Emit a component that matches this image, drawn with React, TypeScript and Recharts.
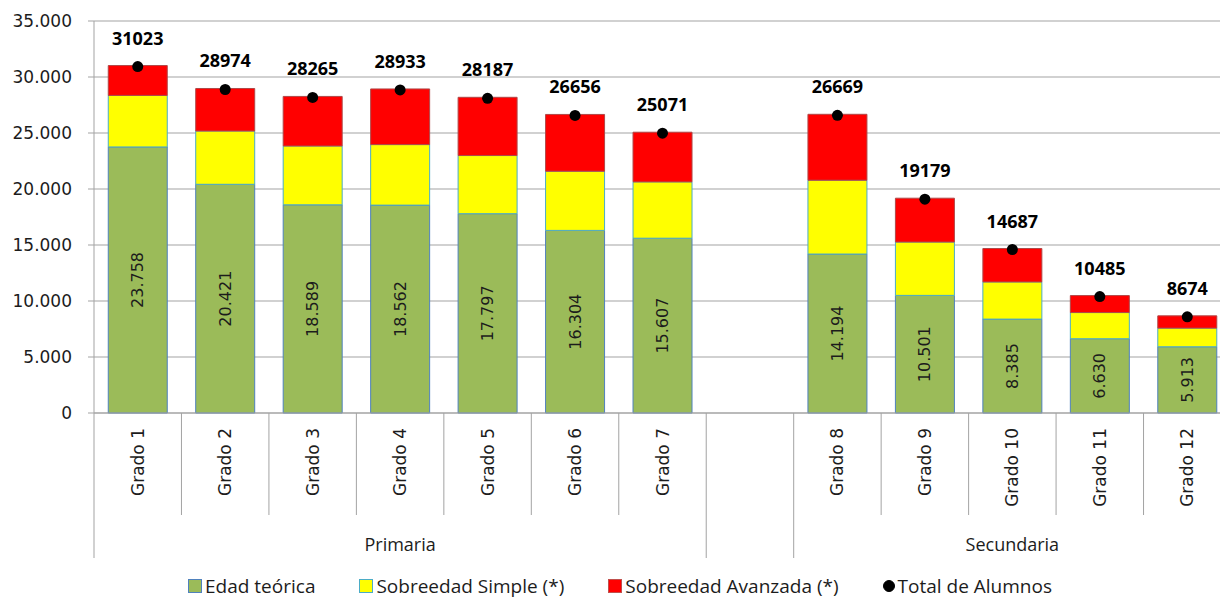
import {
  ComposedChart,
  Bar,
  Line,
  XAxis,
  YAxis,
  CartesianGrid,
  Legend,
  LabelList,
} from "recharts";

const categories = [
  "Grado 1", "Grado 2", "Grado 3", "Grado 4", "Grado 5", "Grado 6", "Grado 7",
  "",
  "Grado 8", "Grado 9", "Grado 10", "Grado 11", "Grado 12",
];
const edadTeorica = [23758, 20421, 18589, 18562, 17797, 16304, 15607, null, 14194, 10501, 8385, 6630, 5913];
const sobreedadSimple = [4599, 4757, 5253, 5404, 5190, 5284, 5029, null, 6593, 4765, 3318, 2339, 1666];
const sobreedadAvanzada = [2666, 3796, 4423, 4967, 5200, 5068, 4435, null, 5882, 3913, 2984, 1516, 1095];
const totalAlumnos = [31023, 28974, 28265, 28933, 28187, 26656, 25071, null, 26669, 19179, 14687, 10485, 8674];

const groupNames = ["Primaria", "Secundaria"];
const groupRanges = [[0, 6], [8, 12]];
const yTicks = [0, 5000, 10000, 15000, 20000, 25000, 30000, 35000];

const data = categories.map((cat, i) => ({
  cat,
  edad: edadTeorica[i],
  simple: sobreedadSimple[i],
  avanzada: sobreedadAvanzada[i],
  total: totalAlumnos[i],
}));

const GREEN = "#9BBB59";
const YELLOW = "#FFFF00";
const RED = "#FF0000";
const GRID = "#a3a3a3";
const TEXT = "#1c1c1c";
const DEJAVU = "'DejaVu Sans', Verdana, sans-serif";
const OPEN = "'Open Sans', 'Noto Sans', sans-serif";

const fmt = (v: number) => String(v).replace(/\B(?=(\d{3})+(?!\d))/g, ".");

function GradoTick(props: any) {
  const { x, y, payload } = props;
  const i = payload.index;
  const step = props.width ? props.width / categories.length : 87.5;
  const left = x - step / 2;
  const isLong = i === 0 || categories[i] === "" || categories[i - 1] === "";
  const group = groupRanges.findIndex(([a, b]) => (a + b) / 2 === i);
  return (
    <g>
      <line x1={left} x2={left} y1={y} y2={y + (isLong ? 145 : 102)} stroke={GRID} />
      {payload.value ? (
        <text
          x={x}
          y={y + 15}
          transform={`rotate(-90, ${x}, ${y + 15})`}
          textAnchor="end"
          dominantBaseline="central"
          fontFamily={DEJAVU}
          fontSize={17}
          fill={TEXT}
        >
          {payload.value}
        </text>
      ) : null}
      {group >= 0 ? (
        <text
          x={x}
          y={y + 131}
          textAnchor="middle"
          dominantBaseline="central"
          fontFamily={OPEN}
          fontSize={18}
          fill={TEXT}
        >
          {groupNames[group]}
        </text>
      ) : null}
    </g>
  );
}

function EdadLabel(props: any) {
  const { x, y, width, height, value } = props;
  if (value == null) return null;
  const cx = x + width / 2;
  const cy = y + height / 2;
  return (
    <text
      x={cx}
      y={cy}
      transform={`rotate(-90, ${cx}, ${cy})`}
      textAnchor="middle"
      dominantBaseline="central"
      fontFamily={DEJAVU}
      fontSize={16}
      fill={TEXT}
    >
      {fmt(value)}
    </text>
  );
}

function TotalLabel(props: any) {
  const { x, y, value } = props;
  if (value == null) return null;
  return (
    <text
      x={x}
      y={y - 21}
      textAnchor="middle"
      fontFamily={OPEN}
      fontWeight="bold"
      fontSize={18}
      fill="#000"
    >
      {value}
    </text>
  );
}

function TotalDot(props: any) {
  const { cx, cy, payload, index } = props;
  if (payload.total == null || cy == null) return <g key={`d${index}`} />;
  return <circle key={`d${index}`} cx={cx} cy={cy + 1} r={5.5} fill="#000" />;
}

const legendItems = [
  { label: "Edad teórica", color: GREEN, border: "#4F81BD", shape: "square" },
  { label: "Sobreedad Simple (*)", color: YELLOW, border: "#4BACC6", shape: "square" },
  { label: "Sobreedad Avanzada (*)", color: RED, border: "#c0504d", shape: "square" },
  { label: "Total de Alumnos", color: "#000", border: "#000", shape: "circle" },
];

function LegendRow() {
  return (
    <div
      style={{
        display: "flex",
        justifyContent: "center",
        gap: 40,
        paddingLeft: 24,
        fontFamily: OPEN,
        fontSize: 19,
        color: TEXT,
        lineHeight: "22px",
        whiteSpace: "nowrap",
      }}
    >
      {legendItems.map((it) => (
        <div key={it.label} style={{ display: "flex", alignItems: "center", flexShrink: 0 }}>
          <span
            style={{
              display: "inline-block",
              flexShrink: 0,
              width: it.shape === "circle" ? 10 : 12,
              height: it.shape === "circle" ? 10 : 12,
              background: it.color,
              border: `1px solid ${it.border}`,
              borderRadius: it.shape === "circle" ? "50%" : 0,
              marginRight: 3,
            }}
          />
          <span style={{ flexShrink: 0, paddingRight: 4 }}>{it.label}</span>
        </div>
      ))}
    </div>
  );
}

export default function App() {
  return (
    <div
      style={{
        position: "fixed",
        left: 0,
        top: 0,
        width: 1220,
        height: 597,
        overflow: "hidden",
        background: "#fff",
      }}
    >
      <ComposedChart
        width={1240}
        height={597}
        data={data}
        margin={{ top: 21, right: 9, left: 0, bottom: 0 }}
        barCategoryGap="16.3%"
      >
        <CartesianGrid stroke={GRID} vertical={false} />
        <XAxis
          dataKey="cat"
          height={184}
          tickSize={0}
          tickMargin={0}
          interval={0}
          axisLine={{ stroke: GRID }}
          tickLine={false}
          tick={<GradoTick />}
        />
        <YAxis
          width={94}
          domain={[0, 35000]}
          ticks={yTicks}
          tickFormatter={fmt}
          tickSize={6}
          tickMargin={16}
          axisLine={{ stroke: GRID }}
          tickLine={{ stroke: GRID }}
          tick={{ fontFamily: DEJAVU, fontSize: 17, fill: TEXT }}
        />
        <Legend
          layout="horizontal"
          verticalAlign="middle"
          align="center"
          wrapperStyle={{ position: "absolute", top: 575, left: 0, width: 1220 }}
          content={<LegendRow />}
        />
        <Bar dataKey="edad" name="Edad teórica" stackId="a" fill={GREEN} stroke="#4F81BD" strokeWidth={1} isAnimationActive={false}>
          <LabelList dataKey="edad" content={<EdadLabel />} />
        </Bar>
        <Bar dataKey="simple" name="Sobreedad Simple (*)" stackId="a" fill={YELLOW} stroke="#4BACC6" strokeWidth={1} isAnimationActive={false} />
        <Bar dataKey="avanzada" name="Sobreedad Avanzada (*)" stackId="a" fill={RED} stroke="#b04848" strokeWidth={1} isAnimationActive={false} />
        <Line
          dataKey="total"
          name="Total de Alumnos"
          stroke="none"
          dot={<TotalDot />}
          activeDot={false}
          isAnimationActive={false}
        >
          <LabelList dataKey="total" content={<TotalLabel />} />
        </Line>
      </ComposedChart>
    </div>
  );
}
